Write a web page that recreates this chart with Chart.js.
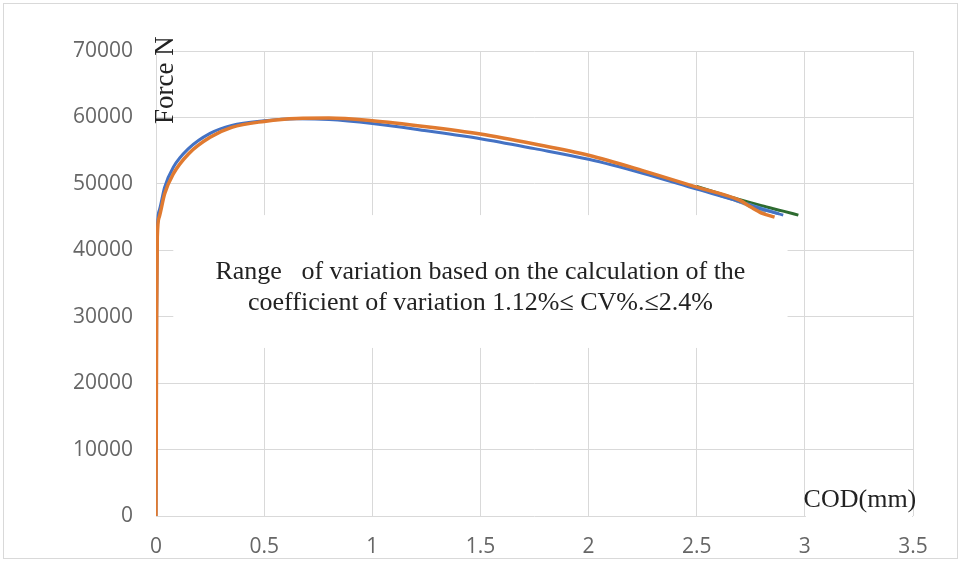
<!DOCTYPE html>
<html>
<head>
<meta charset="utf-8">
<script src="https://cdn.jsdelivr.net/npm/chart.js@4"></script>
<style>
  body { margin: 0; background: #fff; }
  #wrap { width: 962px; height: 565px; position: relative; }
</style>
</head>
<body>
<div id="wrap"><canvas id="myChart"></canvas></div>
<script>
// COD (mm) / Force (N) for each specimen
const codBlue   = [0, 0.003, 0.006, 0.015, 0.04, 0.08, 0.15, 0.25, 0.35, 0.5, 0.65, 0.8, 1, 1.25, 1.5, 1.75, 2, 2.25, 2.5, 2.7, 2.8, 2.9];
const forceBlue = [0, 30000, 43000, 46000, 49500, 52500, 55300, 57600, 58800, 59500, 59800, 59700, 59100, 58000, 56800, 55300, 53700, 51600, 49200, 47300, 46200, 45300];

const codOrange   = [0, 0.003, 0.006, 0.015, 0.04, 0.08, 0.15, 0.25, 0.35, 0.5, 0.65, 0.8, 1, 1.25, 1.5, 1.75, 2, 2.25, 2.5, 2.7, 2.75, 2.8, 2.86];
const forceOrange = [0, 30000, 42000, 45000, 48500, 51500, 54500, 57000, 58500, 59400, 59850, 59900, 59500, 58600, 57500, 56000, 54300, 52000, 49500, 47500, 46500, 45600, 45000];

const codGreen   = [2.5, 2.6, 2.7, 2.8, 2.9, 2.97];
const forceGreen = [49600, 48600, 47600, 46700, 45900, 45300];

const codGray   = [2.6, 2.68, 2.72, 2.76, 2.82];
const forceGray = [48300, 47500, 47000, 46400, 45800];

const codLightBlue   = [2.6, 2.7, 2.8, 2.88];
const forceLightBlue = [48400, 47300, 46300, 45500];

const xTicks = [0, 0.5, 1, 1.5, 2, 2.5, 3, 3.5];
const yTicks = [0, 10000, 20000, 30000, 40000, 50000, 60000, 70000];

const noteLines = [
  'Range   of variation based on the calculation of the',
  'coefficient of variation 1.12%\u2264 CV%.\u22642.4%'
];

function pts(xs, ys) {
  return xs.map((x, i) => ({ x: x, y: ys[i] }));
}

function line(label, xs, ys, color, width) {
  return {
    label: label,
    data: pts(xs, ys),
    borderColor: color,
    backgroundColor: color,
    borderWidth: width,
    showLine: true,
    pointRadius: 0,
    tension: 0.4,
    cubicInterpolationMode: 'monotone'
  };
}

const notes = {
  id: 'notes',
  beforeDraw(chart) {
    const c = chart.ctx;
    c.save();
    c.fillStyle = '#fff';
    c.fillRect(0, 0, chart.width, chart.height);
    c.strokeStyle = '#d9d9d9';
    c.lineWidth = 1;
    c.strokeRect(3.5, 3.5, chart.width - 8, chart.height - 10);
    c.restore();
  },
  beforeDatasetsDraw(chart) {
    const c = chart.ctx;
    const xs = chart.scales.x, ys = chart.scales.y;
    c.save();
    // white text box over the grid
    const x0 = xs.getPixelForValue(0.08), x1 = xs.getPixelForValue(2.92);
    const y0 = ys.getPixelForValue(45300), y1 = ys.getPixelForValue(25300);
    c.fillStyle = '#fff';
    c.fillRect(x0, y0, x1 - x0, y1 - y0);
    const cx = (x0 + x1) / 2;
    c.fillStyle = '#222';
    c.font = '26px "Liberation Serif", "Times New Roman", serif';
    c.textAlign = 'center';
    c.textBaseline = 'middle';
    c.fillText(noteLines[0], cx, ys.getPixelForValue(36700));
    c.fillText(noteLines[1], cx, ys.getPixelForValue(32050));

    // x axis title box
    const ax0 = xs.getPixelForValue(3.0) + 1, ax1 = xs.getPixelForValue(3.5) - 1;
    c.fillStyle = '#fff';
    c.fillRect(ax0, ys.getPixelForValue(5200), ax1 - ax0, ys.getPixelForValue(0) - ys.getPixelForValue(5200) + 1);
    c.fillStyle = '#222';
    c.font = '26px "Liberation Serif", "Times New Roman", serif';
    c.fillText('COD(mm)', (ax0 + ax1) / 2 + 1, ys.getPixelForValue(2400));

    // y axis title, rotated
    c.font = '27px "Liberation Serif", "Times New Roman", serif';
    c.translate(xs.getPixelForValue(0) + 10, ys.getPixelForValue(65600));
    c.rotate(-Math.PI / 2);
    c.fillText('Force N', 0, 0);
    c.restore();
  }
};

const tickFont = { family: '"Open Sans", "Liberation Sans", sans-serif', size: 21 };

new Chart(document.getElementById('myChart'), {
  type: 'scatter',
  data: {
    datasets: [
      line('Specimen 2', codOrange, forceOrange, '#e07a30', 3.5),
      line('Specimen 1', codBlue, forceBlue, '#4472c4', 3),
      line('Specimen 3', codGray, forceGray, '#a5a5a5', 3),
      line('Specimen 4', codLightBlue, forceLightBlue, '#5b9bd5', 3),
      line('Specimen 5', codGreen, forceGreen, '#2e6b30', 3)
    ]
  },
  options: {
    responsive: true,
    maintainAspectRatio: false,
    animation: false,
    layout: { padding: { left: 0, top: 51, right: 49, bottom: 0 } },
    plugins: { legend: { display: false }, tooltip: { enabled: false } },
    scales: {
      x: {
        type: 'linear',
        min: 0,
        max: 3.5,
        afterBuildTicks: s => { s.ticks = xTicks.map(v => ({ value: v })); },
        afterFit: s => { s.height = 49; },
        grid: { color: '#d9d9d9', drawTicks: false },
        border: { display: false },
        ticks: { font: tickFont, color: '#666', padding: 18, callback: v => String(v) }
      },
      y: {
        min: 0,
        max: 70000,
        afterBuildTicks: s => { s.ticks = yTicks.map(v => ({ value: v })); },
        afterFit: s => { s.width = 156; },
        grid: { color: '#d9d9d9', drawTicks: false },
        border: { display: false },
        ticks: { font: tickFont, color: '#666', padding: 23, callback: v => String(v) }
      }
    }
  },
  plugins: [notes]
});
</script>
</body>
</html>
